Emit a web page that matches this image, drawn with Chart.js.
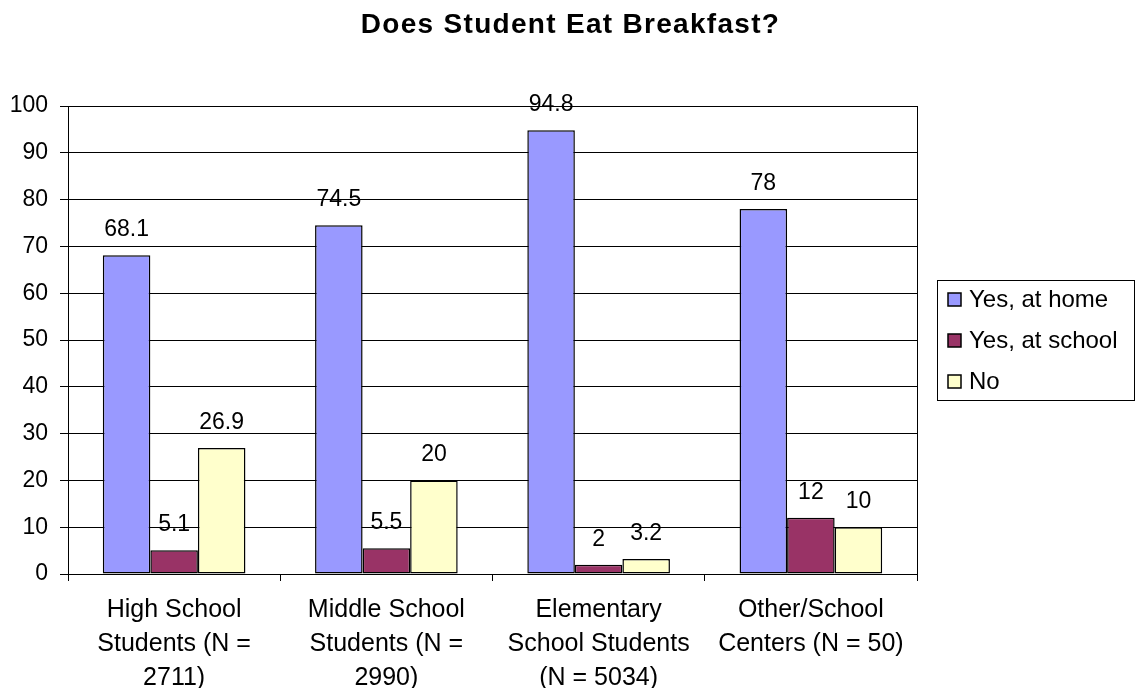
<!DOCTYPE html>
<html>
<head>
<meta charset="utf-8">
<script src="https://cdn.jsdelivr.net/npm/chart.js@4/dist/chart.umd.min.js"></script>
<style>
  html, body { margin: 0; padding: 0; background: #fff; }
  #wrap { width: 1139px; height: 688px; position: relative; }
</style>
</head>
<body>
<div id="wrap"><canvas id="myChart"></canvas></div>
<script>
const chartTitle = 'Does Student Eat Breakfast?';
const categories = [
    ['High School', 'Students (N =', '2711)'],
    ['Middle School', 'Students (N =', '2990)'],
    ['Elementary', 'School Students', '(N = 5034)'],
    ['Other/School', 'Centers (N = 50)']
];
const seriesNames = ['Yes, at home', 'Yes, at school', 'No'];
const atHome = [68.1, 74.5, 94.8, 78];
const atSchool = [5.1, 5.5, 2, 12];
const noBreakfast = [26.9, 20, 3.2, 10];
const yTicks = [0, 10, 20, 30, 40, 50, 60, 70, 80, 90, 100];

const FONT = "'Liberation Sans', Arial, sans-serif";

// title, plot border, value labels and boxed legend drawn by hand
const extras = {
    id: 'extras',
    afterDraw(chart) {
        const ctx = chart.ctx;
        const area = chart.chartArea;
        ctx.save();

        // right edge of plot area
        ctx.strokeStyle = '#000';
        ctx.lineWidth = 1;
        ctx.beginPath();
        ctx.moveTo(Math.round(area.right) + 0.5, area.top);
        ctx.lineTo(Math.round(area.right) + 0.5, area.bottom);
        ctx.stroke();

        // title
        ctx.fillStyle = '#000';
        ctx.font = 'bold 28px ' + FONT;
        ctx.letterSpacing = '1.3px';
        ctx.textAlign = 'center';
        ctx.textBaseline = 'alphabetic';
        ctx.fillText(chartTitle, chart.width / 2 + 1, 33);
        ctx.letterSpacing = '0px';

        // value labels
        ctx.font = '23px ' + FONT;
        chart.data.datasets.forEach((ds, i) => {
            const meta = chart.getDatasetMeta(i);
            meta.data.forEach((bar, j) => {
                ctx.fillText(String(ds.data[j]), bar.x, bar.y - 19);
            });
        });

        // legend
        const lx = 937, ly = 280, lw = 197, lh = 120;
        ctx.lineWidth = 1;
        ctx.strokeRect(lx + 0.5, ly + 0.5, lw, lh);
        ctx.font = '24px ' + FONT;
        ctx.textAlign = 'left';
        ctx.textBaseline = 'middle';
        chart.data.datasets.forEach((ds, i) => {
            const cy = 299 + i * 41;
            ctx.fillStyle = ds.backgroundColor;
            ctx.fillRect(948, cy - 6, 13, 13);
            ctx.strokeStyle = '#000';
            ctx.lineWidth = 1.5;
            ctx.strokeRect(948, cy - 6, 13, 13);
            ctx.fillStyle = '#000';
            ctx.fillText(ds.label, 969, cy + 1);
        });

        ctx.restore();
    }
};

const ctx = document.getElementById('myChart');

new Chart(ctx, {
    type: 'bar',
    data: {
        labels: categories,
        datasets: [
            { label: seriesNames[0], data: atHome, backgroundColor: '#9999FF' },
            { label: seriesNames[1], data: atSchool, backgroundColor: '#993366' },
            { label: seriesNames[2], data: noBreakfast, backgroundColor: '#FFFFCC' }
        ].map(d => Object.assign(d, {
            borderColor: '#000',
            borderWidth: 1.5,
            borderSkipped: false,
            categoryPercentage: 0.672,
            barPercentage: 1
        }))
    },
    options: {
        responsive: true,
        maintainAspectRatio: false,
        animation: false,
        layout: {
            padding: { top: 106, right: 222, bottom: 0, left: 0 }
        },
        plugins: {
            legend: { display: false },
            title: { display: false },
            tooltip: { enabled: false }
        },
        scales: {
            x: {
                afterFit: (scale) => { scale.height = 114; },
                grid: {
                    drawOnChartArea: false,
                    tickLength: 7,
                    color: '#000'
                },
                border: { color: '#000', width: 1 },
                ticks: {
                    color: '#000',
                    maxRotation: 0,
                    autoSkip: false,
                    padding: 12,
                    font: { family: FONT, size: 25, lineHeight: 1.36 }
                }
            },
            y: {
                min: 0,
                max: 100,
                afterFit: (scale) => { scale.width = 68; },
                afterBuildTicks: (scale) => {
                    scale.ticks = yTicks.map(v => ({ value: v }));
                },
                grid: {
                    color: '#000',
                    lineWidth: 1,
                    tickLength: 8
                },
                border: { color: '#000', width: 1 },
                ticks: {
                    color: '#000',
                    padding: 12,
                    font: { family: FONT, size: 23 }
                }
            }
        }
    },
    plugins: [extras]
});
</script>
</body>
</html>
